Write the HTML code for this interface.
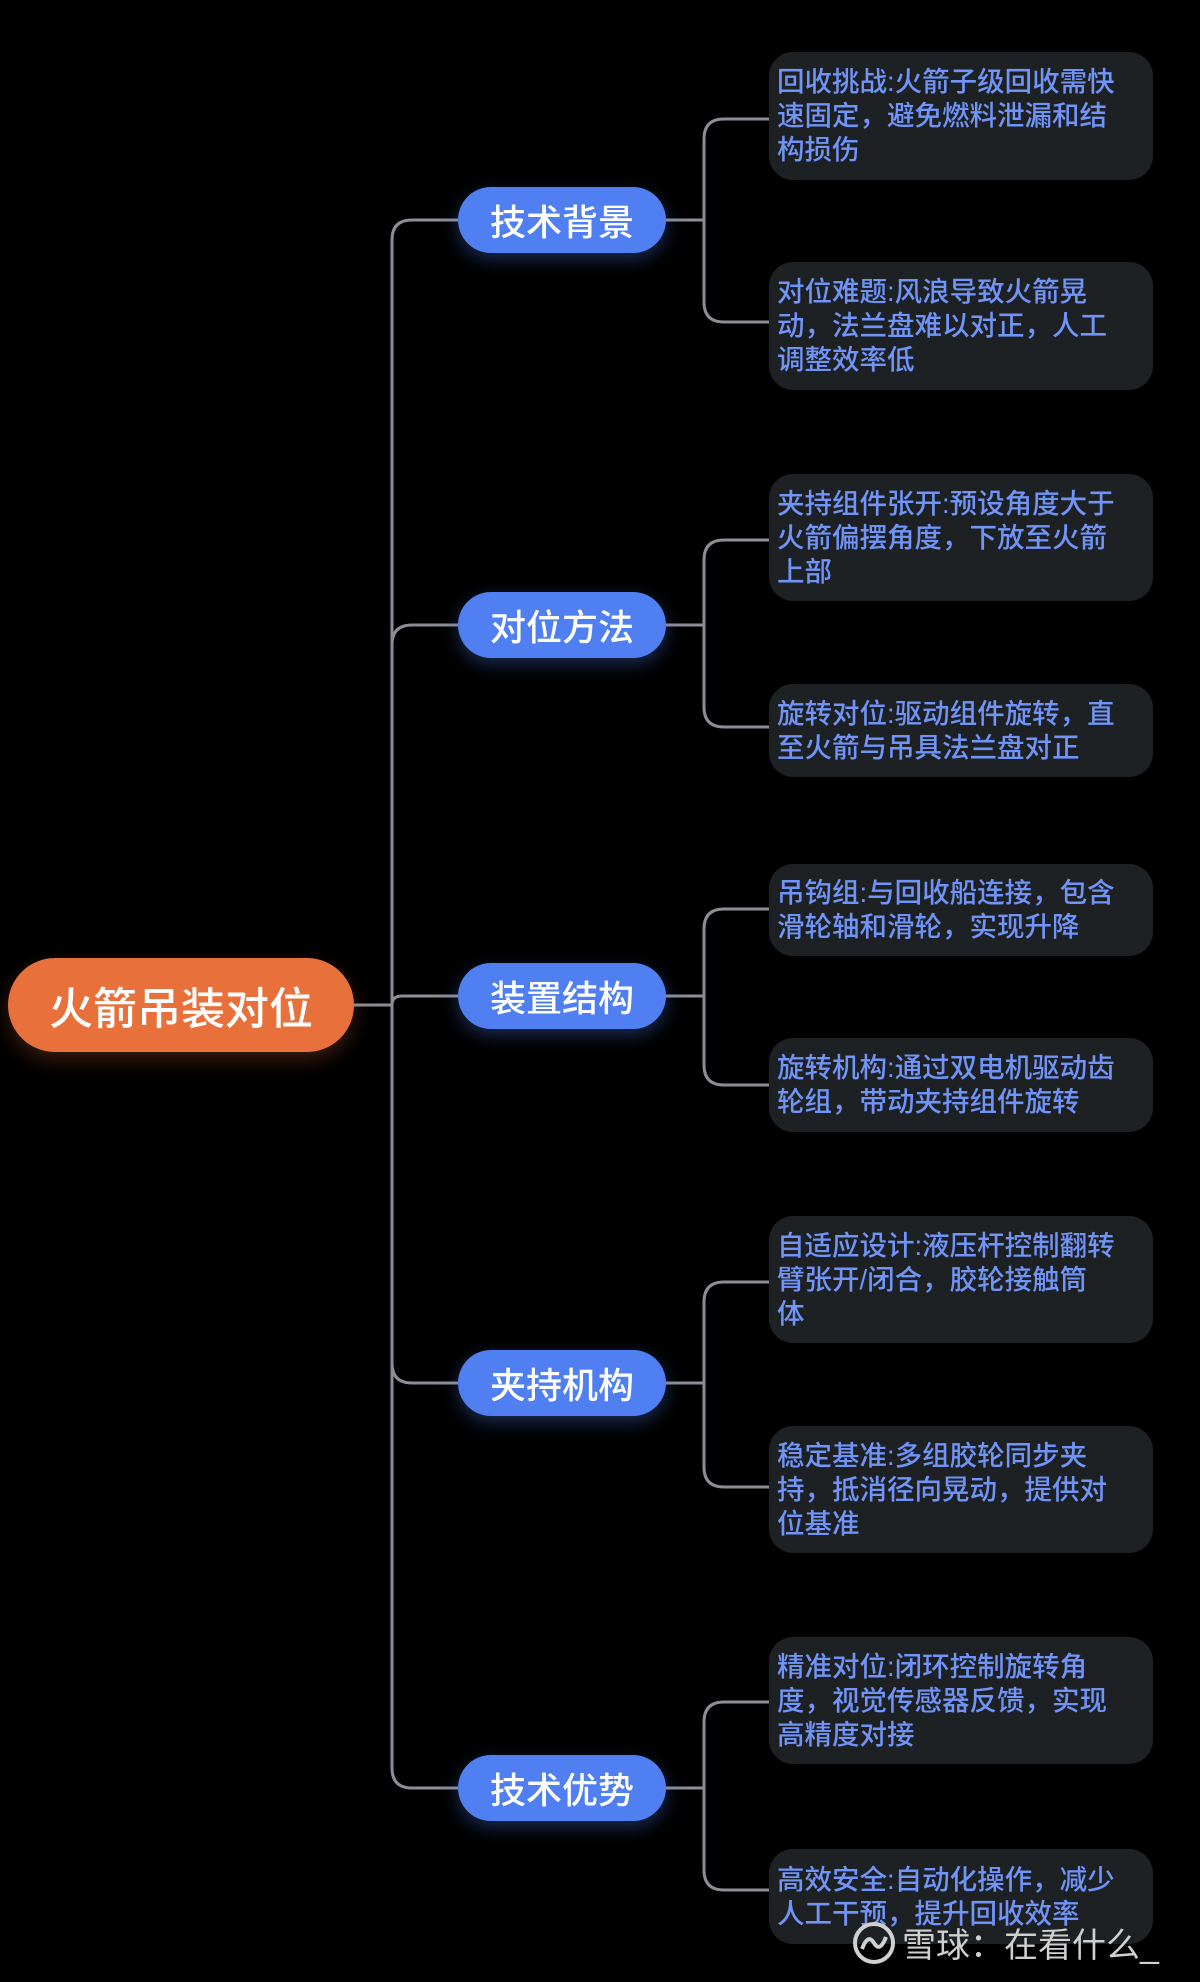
<!DOCTYPE html>
<html><head><meta charset="utf-8"><style>
html,body{margin:0;padding:0;background:#000;}
body{width:1200px;height:1982px;position:relative;overflow:hidden;font-family:"Liberation Sans","Noto Sans CJK SC",sans-serif;}
.root{position:absolute;left:8px;top:958px;width:346px;height:94px;border-radius:47px;background:#e8703a;color:#fff;font-size:44px;font-weight:500;display:flex;align-items:center;justify-content:center;box-shadow:0 8px 20px rgba(232,112,58,0.25);}
.br{position:absolute;left:458px;width:208px;height:66px;border-radius:33px;background:#4f7ff0;color:#fff;font-size:36px;font-weight:500;display:flex;align-items:center;justify-content:center;box-shadow:0 6px 18px rgba(79,127,240,0.35);}
.lf{position:absolute;left:769px;width:384px;border-radius:24px;background:#1e2124;color:#7094f7;font-size:27.5px;font-weight:500;line-height:34px;display:flex;align-items:center;padding-left:8px;box-sizing:border-box;white-space:nowrap;}
.wm{position:absolute;left:852px;top:1918px;color:#d0d0d0;font-size:34px;white-space:nowrap;display:flex;align-items:center;}
</style></head><body>
<svg width="1200" height="1982" style="position:absolute;left:0;top:0" fill="none" stroke="#8b8e94" stroke-width="3">
<path d="M354,1005 L392,1005"/>
<path d="M392,1005 L392,240 Q392,220 412,220 L458,220"/>
<path d="M392,1005 L392,645 Q392,625 412,625 L458,625"/>
<path d="M392,1005 Q392,996 402,996 L458,996"/>
<path d="M392,1005 L392,1363 Q392,1383 412,1383 L458,1383"/>
<path d="M392,1005 L392,1768 Q392,1788 412,1788 L458,1788"/>
<path d="M666,220 L704,220 M704,220 L704,139 Q704,119 724,119 L769,119 M704,220 L704,302 Q704,322 724,322 L769,322"/>
<path d="M666,625 L704,625 M704,625 L704,560 Q704,540 724,540 L769,540 M704,625 L704,707 Q704,727 724,727 L769,727"/>
<path d="M666,996 L704,996 M704,996 L704,929 Q704,909 724,909 L769,909 M704,996 L704,1065 Q704,1085 724,1085 L769,1085"/>
<path d="M666,1383 L704,1383 M704,1383 L704,1302 Q704,1282 724,1282 L769,1282 M704,1383 L704,1467 Q704,1487 724,1487 L769,1487"/>
<path d="M666,1788 L704,1788 M704,1788 L704,1722 Q704,1702 724,1702 L769,1702 M704,1788 L704,1870 Q704,1890 724,1890 L769,1890"/>
</svg>
<div class="root">火箭吊装对位</div>
<div class="br" style="top:187px">技术背景</div>
<div class="br" style="top:592px">对位方法</div>
<div class="br" style="top:963px">装置结构</div>
<div class="br" style="top:1350px">夹持机构</div>
<div class="br" style="top:1755px">技术优势</div>

<div class="lf" style="top:52px;height:128px">回收挑战:火箭子级回收需快<br>速固定，避免燃料泄漏和结<br>构损伤</div>
<div class="lf" style="top:262px;height:128px">对位难题:风浪导致火箭晃<br>动，法兰盘难以对正，人工<br>调整效率低</div>
<div class="lf" style="top:474px;height:127px">夹持组件张开:预设角度大于<br>火箭偏摆角度，下放至火箭<br>上部</div>
<div class="lf" style="top:684px;height:93px">旋转对位:驱动组件旋转，直<br>至火箭与吊具法兰盘对正</div>
<div class="lf" style="top:864px;height:92px">吊钩组:与回收船连接，包含<br>滑轮轴和滑轮，实现升降</div>
<div class="lf" style="top:1038px;height:94px">旋转机构:通过双电机驱动齿<br>轮组，带动夹持组件旋转</div>
<div class="lf" style="top:1216px;height:127px">自适应设计:液压杆控制翻转<br>臂张开/闭合，胶轮接触筒<br>体</div>
<div class="lf" style="top:1426px;height:127px">稳定基准:多组胶轮同步夹<br>持，抵消径向晃动，提供对<br>位基准</div>
<div class="lf" style="top:1637px;height:127px">精准对位:闭环控制旋转角<br>度，视觉传感器反馈，实现<br>高精度对接</div>
<div class="lf" style="top:1849px;height:95px">高效安全:自动化操作，减少<br>人工干预，提升回收效率</div>

<div class="wm"><svg width="44" height="44" viewBox="0 0 44 44" style="margin-right:6px"><circle cx="22" cy="22" r="19" stroke="#d0d0d0" stroke-width="4" fill="none"/><path d="M10,28 Q16,12 22,22 Q28,32 34,16" stroke="#d0d0d0" stroke-width="4" fill="none"/></svg>雪球：在看什么_</div>
</body></html>
